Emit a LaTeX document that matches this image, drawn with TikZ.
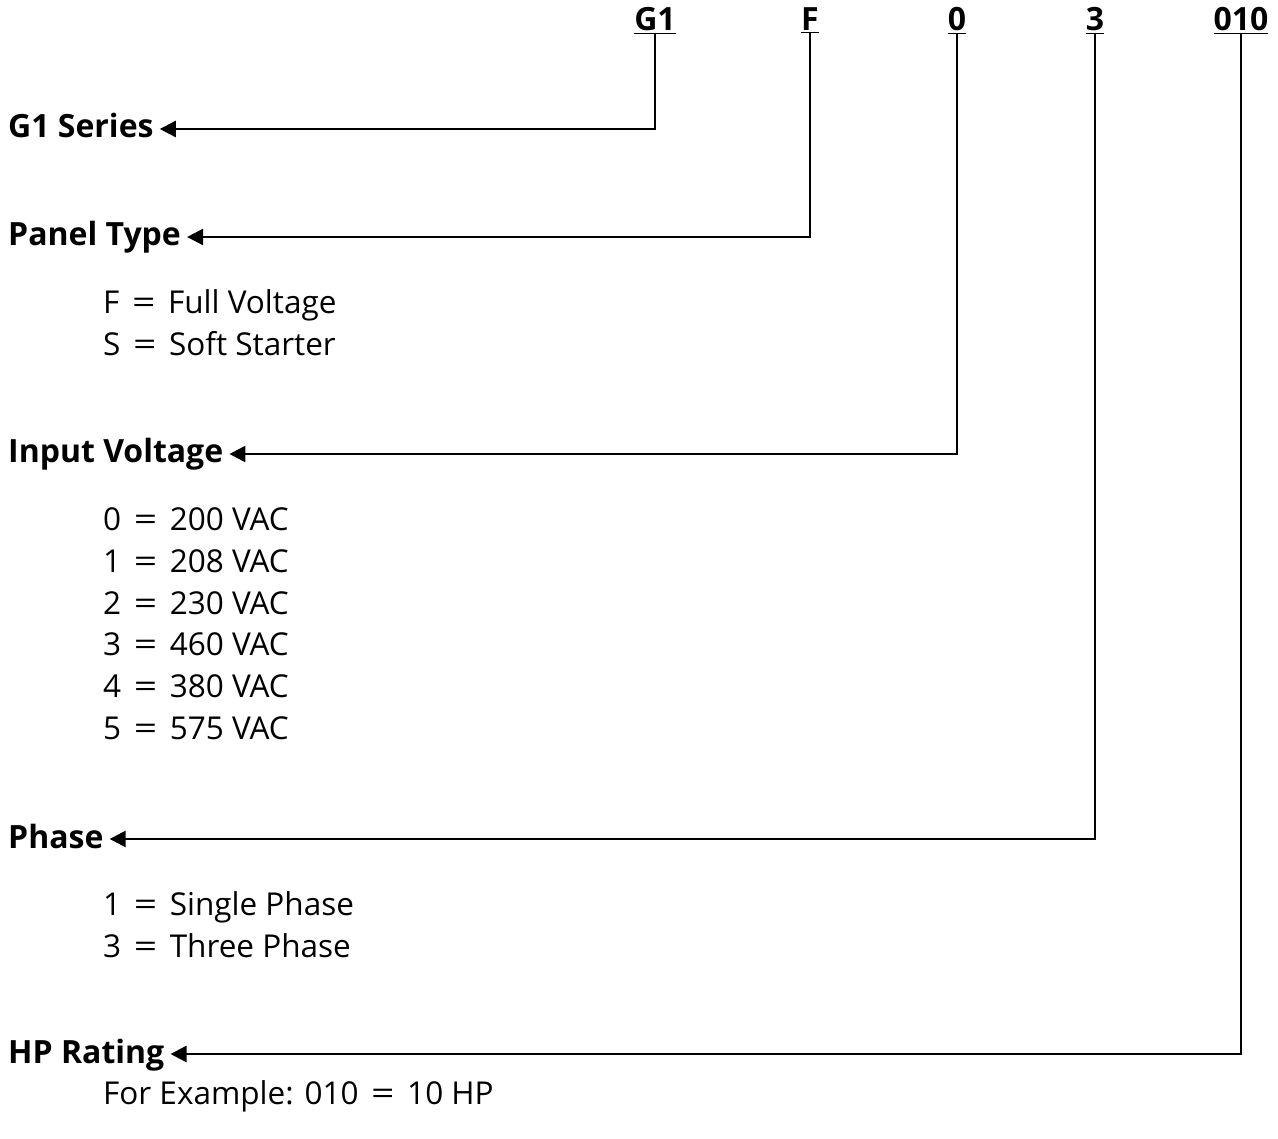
\documentclass[tikz,border=0pt]{standalone}
\usepackage{fontspec}
\setmainfont{Open Sans}
\usetikzlibrary{arrows.meta}
\newcommand\eqsign{\hspace{0.4em}\scalebox{1.3}[1]{=}\hspace{0.4em}}

\tikzset{
  head/.style={anchor=base west, inner sep=0pt, font=\bfseries\fontsize{32}{36}\selectfont},
  item/.style={anchor=base west, inner sep=0pt, font=\fontsize{31.5}{36}\selectfont},
  code/.style={anchor=base, inner sep=0pt, font=\bfseries\fontsize{32}{36}\selectfont},
  lead/.style={line width=2.5pt, -{Triangle[length=16pt,width=16pt]}, shorten >=6pt},
}

\begin{document}
\begin{tikzpicture}[x=1pt, y=-1pt]
		%%%%% START %%%%%
		\useasboundingbox (0, 0) rectangle (1278, 1139);
		
		\node[code] (cg1) at (655, 31) {\underline{G1}};
		\node[code] (cf) at (810, 31) {\underline{F}};
		\node[code] (cv) at (957, 31) {\underline{0}};
		\node[code] (cp) at (1095, 31) {\underline{3}};
		\node[code] (chp) at (1241, 31) {\underline{010}};
		
		\node[head] (series) at (8, 138) {G1 Series};
		\node[head] (panel) at (8, 246) {Panel Type};
		\node[head] (volt) at (8, 463) {Input Voltage};
		\node[head] (phase) at (8, 848) {Phase};
		\node[head] (rating) at (8, 1063) {HP Rating};
		
		\draw[lead] (cg1.south) |- ([yshift=9pt]series.base east);
		\draw[lead] (cf.south) |- ([yshift=9pt]panel.base east);
		\draw[lead] (cv.south) |- ([yshift=9pt]volt.base east);
		\draw[lead] (cp.south) |- ([yshift=9pt]phase.base east);
		\draw[lead] (chp.south) |- ([yshift=9pt]rating.base east);
		
		\foreach \k/\t [count=\i] in {F/Full Voltage, S/Soft Starter}
			\node[item] (pt\i) at (103, 314+42*\i-42) {\k\eqsign\t};
		
		\foreach \k/\t [count=\i] in {0/200, 1/208, 2/230, 3/460, 4/380, 5/575}
			\node[item] (iv\i) at (103, 531+41.6*\i-41.6) {\k\eqsign\t{} VAC};
		
		\foreach \k/\t [count=\i] in {1/Single Phase, 3/Three Phase}
			\node[item] (ph\i) at (103, 915+42*\i-42) {\k\eqsign\t};
		
		\node[item] (hp1) at (103, 1104) {For Example: 010\eqsign 10 HP};
		
		%%%%% END %%%%%
\end{tikzpicture}
\end{document}
